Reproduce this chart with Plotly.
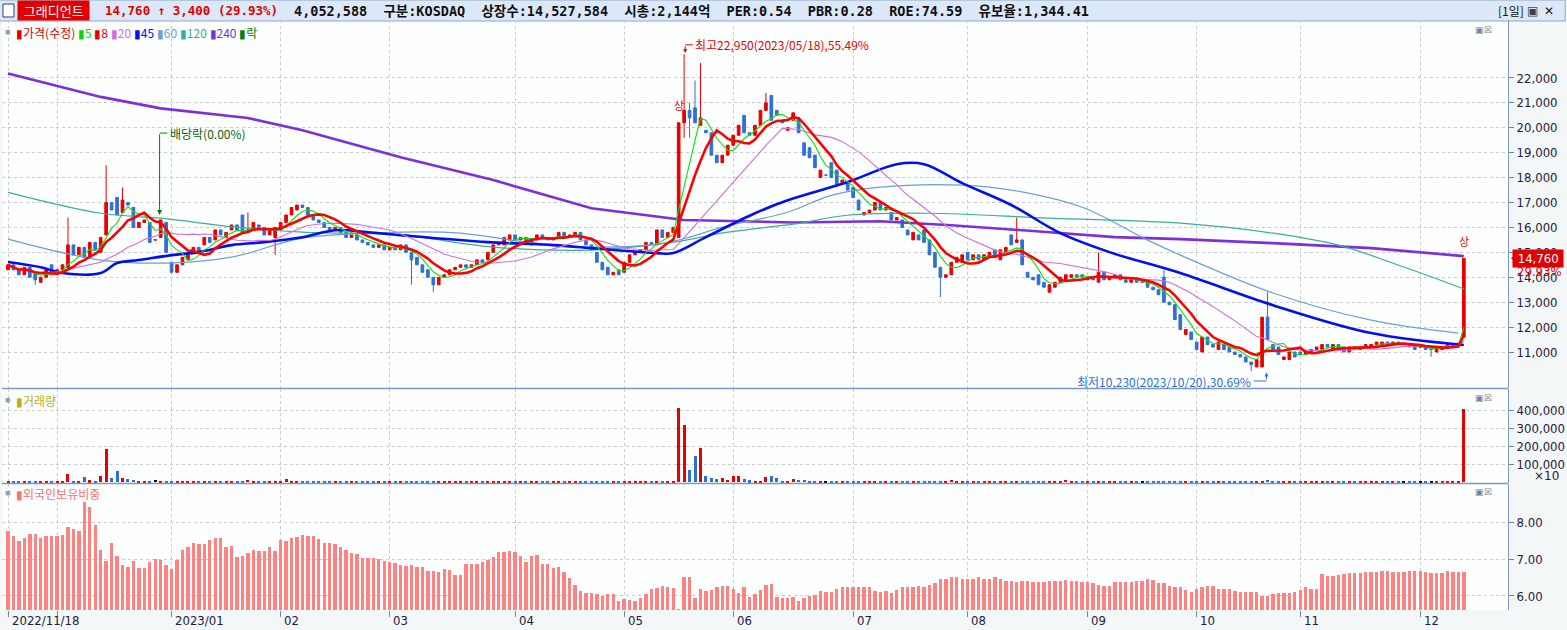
import plotly.graph_objects as go
import pandas as pd

# ---------------- data ----------------
month_labels = ["2022/11/18", "", "2023/01", "02", "03", "04", "05", "06", "07", "08", "09", "10", "11", "12"]

c_nov = [14500,14300,14100,14400,14000,13900,14000,14300,14200]
o_nov = [14300,14500,14300,14100,14400,14200,13800,14000,14500]
c_dec = [14300,14500,15300,14900,15200,14800,15400,15100,15600,17000,16700,16500,17100,16900,16000,16200,16300,15400,15500,16300,15000]
o_dec = [14100,14300,14400,15300,14900,15200,14800,15400,15000,15700,17000,17200,16600,17000,16800,16000,16200,16200,15500,15600,16200]
c_jan = [14200,14500,14800,14900,15200,15000,15600,15400,15900,15700,15800,16100,15900,15800,15900,16200,16000,15700,15900,16000]
o_jan = [14600,14200,14500,14700,15000,15200,15300,15600,15500,15900,15600,15900,16100,16500,15800,15900,16100,16000,15700,15600]
c_feb = [16200,16500,16800,16900,16800,16500,16300,16200,16000,15900,16000,15800,15600,15700,15500,15400,15300,15200,15300,15100]
o_feb = [15900,16200,16500,16700,16900,16800,16500,16300,16200,16000,15900,16000,15800,15600,15700,15500,15400,15300,15200,15300]
c_mar = [15200,15100,15300,15000,14700,14500,14200,14000,13700,14000,14100,14300,14400,14500,14400,14500,14700,14600,15000,15300,15400,15600,15700]
o_mar = [15100,15200,15100,15300,15000,14800,14500,14300,14000,13700,14000,14100,14300,14400,14500,14400,14500,14700,14700,15000,15300,15300,15500]
c_apr = [15500,15600,15400,15500,15700,15600,15500,15600,15800,15600,15700,15800,15500,15300,15100,14600,14300,14100,14200,14100]
o_apr = [15700,15500,15600,15300,15500,15700,15600,15500,15600,15800,15600,15700,15800,15500,15300,15000,14600,14400,14100,14300]
c_may = [14600,14900,15000,15100,15400,15300,15900,15600,15800,16000,20200,20700,20400,20200,20400,19800,18900,18600,18900,19300]
o_may = [14200,14600,14900,15000,15100,15400,15300,15900,15600,15800,15600,20200,20700,20800,20100,19900,19800,18900,18600,18900]
c_jun = [19700,20100,19800,19700,20100,20700,21000,20300,20500,20200,20000,20600,19800,18900,18800,18400,18300,18100,18000,17700,17900,17500]
o_jun = [19300,19700,20500,19800,19700,20100,20700,21300,20700,20300,19900,20300,20400,19400,19200,18900,18000,18100,18600,18300,17800,17800]
c_jul = [17200,16700,16600,16700,17000,16700,16800,16300,16400,16000,15700,15800,15500,15400,14900,14400,14000,14100,14600,14800,14900]
o_jul = [17600,17100,16500,16600,16700,17000,16700,16600,16300,16300,15900,15500,15700,15900,15500,15000,14400,14000,14100,14600,14600]
c_aug = [14700,14900,14700,14900,15000,14800,15100,15200,15300,15500,14500,14000,13900,13700,13600,13700,13800,14000,14100,14100,14000,14000]
o_aug = [15000,14700,14900,14700,14800,15100,14700,15000,15700,15400,15500,14200,14000,14100,13800,13400,13600,13800,13900,14000,14100,14100]
c_sep = [14000,13900,14200,13900,14000,14100,13900,13800,13900,13800,13800,13600,13500,13300,13000,12900,12300,11900,11900,11500]
o_sep = [13900,14000,13800,14200,13900,14000,14100,13900,13800,13900,13800,13800,13600,13500,14000,13000,12900,12500,11700,11800]
c_oct = [11100,11600,11300,11200,11400,11100,11000,10900,10800,10600,10500,10700,12400,11500,11100,10900,10800,11000,10800]
o_oct = [11400,11000,11600,11300,11100,11300,11200,11000,10900,10800,10600,10400,10400,12400,11300,11200,10700,10700,11000]
c_nov2 = [10900,11000,11100,11200,11300,11200,11300,11100,11000,11200,11100,11200,11300,11300,11400,11400,11300,11400,11300,11300,11200,11100]
o_nov2 = [11000,10900,11000,11100,11100,11300,11100,11300,11200,11000,11200,11100,11200,11200,11300,11300,11400,11300,11400,11300,11300,11300]
c_dec2 = [11200,11100,11100,11200,11200,11300,11300,11360,14760]
o_dec2 = [11200,11200,11100,11000,11100,11200,11200,11300,11600]

# wick extremes (day index, value)
high_idx = [11, 18, 21, 44, 123, 124, 125, 126, 127, 139, 185, 200, 212, 231, 267]
high_val = [16400, 18500, 17600, 16600, 20200, 22950, 21000, 21900, 22600, 21400, 16400, 15000, 14300, 13400, 14760]
low_idx = [5, 49, 74, 78, 124, 125, 171, 228, 261]
low_val = [13700, 14900, 13700, 13400, 19600, 19600, 13200, 10230, 10800]

vol_nov = [6000,3000,3000,4000,3000,4000,3000,3000,4000]
vol_dec = [4000,4000,44000,8000,8000,28000,10000,4000,33000,183000,22000,61000,22000,17000,13000,8000,8000,8000,13000,5000,8000]
vol_jan = [8000,8000,5000,4000,4000,4000,8000,4000,4000,5000,4000,8000,4000,4000,13000,4000,4000,4000,4000,4000]
vol_feb = [4000,17000,4000,3000,4000,3000,4000,3000,3000,4000,3000,4000,3000,3000,4000,3000,3000,4000,3000,3000]
vol_mar = [3000,4000,3000,3000,4000,3000,3000,4000,3000,3000,3000,4000,3000,3000,3000,4000,3000,3000,4000,3000,3000,3000,4000]
vol_apr = [3000,3000,4000,3000,3000,3000,4000,3000,3000,3000,4000,3000,8000,3000,3000,4000,3000,3000,3000,4000]
vol_may = [3000,4000,3000,3000,4000,3000,8000,4000,4000,5000,411000,317000,67000,144000,189000,33000,22000,17000,22000,13000]
vol_jun = [33000,33000,17000,11000,8000,8000,28000,33000,22000,8000,8000,17000,13000,13000,5000,4000,4000,3000,3000,4000,3000,3000]
vol_jul = [3000,4000,3000,3000,8000,3000,4000,8000,3000,3000,4000,3000,3000,3000,4000,3000,3000,4000,13000,3000,3000]
vol_aug = [3000,3000,4000,3000,3000,3000,4000,3000,3000,3000,4000,3000,3000,3000,4000,3000,3000,8000,13000,3000,3000,4000]
vol_sep = [3000,3000,4000,3000,3000,3000,8000,3000,3000,3000,4000,3000,3000,3000,3000,4000,3000,3000,8000,3000]
vol_oct = [3000,3000,4000,3000,3000,3000,4000,3000,3000,3000,4000,3000,3000,13000,3000,3000,4000,3000,3000]
vol_nov2 = [3000,3000,4000,3000,3000,3000,4000,3000,3000,3000,4000,3000,3000,3000,4000,3000,3000,3000,4000,3000,3000,3000]
vol_dec2 = [3000,4000,3000,3000,3000,4000,3000,3000,405259]

fr_nov = [7.77,7.63,7.50,7.58,7.68,7.68,7.58,7.61,7.63]
fr_dec = [7.63,7.65,7.86,7.81,7.77,8.53,8.40,7.91,7.24,6.95,7.43,7.07,6.83,6.79,6.95,6.76,6.76,6.91,6.99,6.97,6.83]
fr_jan = [6.74,6.97,7.25,7.32,7.44,7.41,7.40,7.51,7.58,7.57,7.33,7.35,7.05,7.08,7.17,7.24,7.23,7.23,7.32,7.23]
fr_feb = [7.52,7.50,7.58,7.60,7.65,7.63,7.63,7.54,7.44,7.44,7.40,7.32,7.25,7.15,7.13,7.04,7.04,7.02,7.00,6.95]
fr_mar = [6.93,6.88,6.84,6.82,6.84,6.78,6.78,6.68,6.68,6.65,6.73,6.70,6.57,6.57,6.86,6.87,6.86,6.93,6.98,7.05,7.19,7.19,7.23]
fr_apr = [7.19,7.08,6.93,7.08,7.12,6.86,6.86,6.77,6.78,6.64,6.49,6.30,6.13,6.09,6.09,6.05,5.99,6.05,6.05,5.86]
fr_may = [5.92,5.89,5.86,5.95,6.06,6.20,6.22,6.26,6.24,6.22,5.66,6.52,6.52,5.95,6.19,6.14,6.17,6.23,6.27,6.27]
fr_jun = [6.19,6.08,6.25,5.98,6.05,6.17,6.30,6.32,5.97,5.95,5.95,5.98,5.86,5.95,6.00,6.03,6.14,6.11,6.11,6.19,6.23,6.23]
fr_jul = [6.25,6.23,6.23,6.23,6.14,6.11,6.14,6.08,6.17,6.23,6.23,6.23,6.27,6.23,6.30,6.35,6.47,6.47,6.50,6.50,6.47]
fr_aug = [6.47,6.47,6.50,6.47,6.47,6.50,6.47,6.41,6.41,6.39,6.41,6.41,6.39,6.39,6.39,6.41,6.41,6.41,6.44,6.41,6.41,6.39]
fr_sep = [6.39,6.35,6.30,6.27,6.27,6.39,6.39,6.39,6.39,6.41,6.41,6.46,6.44,6.35,6.35,6.27,6.24,6.24,6.17,6.12]
fr_oct = [6.19,6.25,6.27,6.26,6.19,6.19,6.19,6.14,6.12,6.12,6.12,6.12,6.01,6.01,6.06,6.07,6.07,6.07,6.12]
fr_nov2 = [6.16,6.23,6.20,6.20,6.59,6.53,6.53,6.56,6.60,6.63,6.63,6.61,6.66,6.64,6.66,6.68,6.68,6.66,6.66,6.64,6.67,6.67]
fr_dec2 = [6.67,6.65,6.62,6.62,6.62,6.67,6.65,6.65,6.65]

# long moving averages (day index, value)
ma45_idx = [0, 6, 10, 17, 20, 24, 30, 35, 41, 47, 54, 60, 66, 72, 88, 100, 107, 119, 122, 128, 137, 143, 154, 163, 168, 175, 184, 193, 202, 215, 232, 250, 267]
ma45_val = [14610, 14400, 14170, 14170, 14570, 14690, 14890, 15010, 15290, 15410, 15610, 15890, 15810, 15690, 15410, 15290, 15170, 14970, 14970, 15610, 16570, 17090, 17820, 18540, 18540, 17780, 16900, 15770, 15010, 14170, 12880, 11760, 11280]
ma60_idx = [0, 17, 29, 41, 54, 72, 83, 95, 107, 119, 125, 131, 143, 151, 160, 175, 184, 197, 209, 215, 232, 250, 266]
ma60_val = [15530, 14690, 14570, 14810, 15570, 15810, 15770, 15410, 15210, 15330, 15610, 16010, 16610, 17290, 17620, 17700, 17500, 16810, 15490, 14890, 13370, 12280, 11760]
ma120_idx = [0, 17, 28, 42, 54, 72, 89, 107, 122, 132, 144, 154, 169, 191, 215, 232, 244, 256, 267]
ma120_val = [17410, 16570, 16370, 16010, 15810, 15690, 15210, 15090, 15410, 15810, 16130, 16490, 16570, 16370, 16170, 15770, 15290, 14410, 13530]
ma240_idx = [0, 10, 17, 28, 44, 54, 72, 89, 107, 124, 144, 160, 173, 191, 203, 215, 232, 250, 267]
ma240_val = [22180, 21620, 21240, 20780, 20390, 19900, 18820, 17900, 16770, 16300, 16200, 16250, 16090, 15810, 15610, 15530, 15370, 15170, 14850]

# ---------------- assemble ----------------
C = c_nov + c_dec + c_jan + c_feb + c_mar + c_apr + c_may + c_jun + c_jul + c_aug + c_sep + c_oct + c_nov2 + c_dec2
O = o_nov + o_dec + o_jan + o_feb + o_mar + o_apr + o_may + o_jun + o_jul + o_aug + o_sep + o_oct + o_nov2 + o_dec2
V = vol_nov + vol_dec + vol_jan + vol_feb + vol_mar + vol_apr + vol_may + vol_jun + vol_jul + vol_aug + vol_sep + vol_oct + vol_nov2 + vol_dec2
FR = fr_nov + fr_dec + fr_jan + fr_feb + fr_mar + fr_apr + fr_may + fr_jun + fr_jul + fr_aug + fr_sep + fr_oct + fr_nov2 + fr_dec2
months = [c_nov, c_dec, c_jan, c_feb, c_mar, c_apr, c_may, c_jun, c_jul, c_aug, c_sep, c_oct, c_nov2, c_dec2]
n = len(C)
assert len(O) == n and len(V) == n and len(FR) == n, (len(C), len(O), len(V), len(FR))

H = [max(o, c) for o, c in zip(O, C)]
L = [min(o, c) for o, c in zip(O, C)]
for i, v in zip(high_idx, high_val):
    H[i] = max(H[i], v)
for i, v in zip(low_idx, low_val):
    L[i] = min(L[i], v)

X = list(range(n))
tickvals = []
pos = 0
for m in months:
    tickvals.append(pos)
    pos += len(m)

s = pd.Series(C, dtype=float)
ma5 = s.rolling(5, min_periods=1).mean()
ma8 = s.rolling(8, min_periods=1).mean()
ma20 = s.rolling(20, min_periods=1).mean()

RED = "#e80000"
BLUE = "#2f6fd6"
vcol = [RED if c > o else (BLUE if c < o else "#000000") for o, c in zip(O, C)]

fig = go.Figure()
fig.add_trace(go.Scatter(x=ma240_idx, y=ma240_val, mode="lines", line=dict(color="#7b2fe0", width=2.6), yaxis="y", xaxis="x"))
fig.add_trace(go.Scatter(x=ma120_idx, y=ma120_val, mode="lines", line=dict(color="#3aae96", width=1.2, shape="spline"), yaxis="y"))
fig.add_trace(go.Scatter(x=ma60_idx, y=ma60_val, mode="lines", line=dict(color="#6c9fd2", width=1.2, shape="spline"), yaxis="y"))
fig.add_trace(go.Scatter(x=ma45_idx, y=ma45_val, mode="lines", line=dict(color="#0010f0", width=2.6, shape="spline"), yaxis="y"))
fig.add_trace(go.Scatter(x=X, y=ma20, mode="lines", line=dict(color="#d070d8", width=1.1), yaxis="y"))
fig.add_trace(go.Candlestick(x=X, open=O, high=H, low=L, close=C, whiskerwidth=0,
                             increasing=dict(line=dict(color=RED, width=1), fillcolor=RED),
                             decreasing=dict(line=dict(color=BLUE, width=1), fillcolor=BLUE),
                             yaxis="y"))
fig.add_trace(go.Scatter(x=X, y=ma5, mode="lines", line=dict(color="#10e010", width=1.1), yaxis="y"))
fig.add_trace(go.Scatter(x=X, y=ma8, mode="lines", line=dict(color="#ff0000", width=2.6), yaxis="y"))

fig.add_trace(go.Bar(x=X, y=V, marker=dict(color=vcol, line=dict(width=0)), width=0.55, xaxis="x2", yaxis="y2"))
fig.add_trace(go.Bar(x=X, y=FR, marker=dict(color="#ff8282", line=dict(width=0)), width=0.62, xaxis="x3", yaxis="y3"))

def py(pix):
    return (610 - pix) / 590.0

def px(p):
    return (p - 2) / 1508.0

xr = [-1.1, 275.1]
grid = dict(showgrid=True, gridcolor="#c8cccc", griddash="dot", gridwidth=1)
axfont = dict(family="DejaVu Sans Condensed, DejaVu Sans", size=13, color="#1c2040")
common_x = dict(range=xr, tickvals=tickvals, showline=False, zeroline=False, **grid)
fig.update_layout(
    width=1567, height=630,
    margin=dict(l=2, r=57, t=20, b=20),
    paper_bgcolor="#f3f7f7", plot_bgcolor="#fdfefe",
    showlegend=False, bargap=0,
    xaxis=dict(domain=[0, 1], anchor="y", showticklabels=False, rangeslider=dict(visible=False), **common_x),
    xaxis2=dict(domain=[0, 1], anchor="y2", showticklabels=False, matches="x", **common_x),
    xaxis3=dict(domain=[0, 1], anchor="y3", showticklabels=False, ticks="outside", ticklen=6,
                tickcolor="#7088b0", matches="x", **common_x),
    yaxis=dict(domain=[py(388), py(20)], side="right", range=[9555, 24327],
               tickvals=list(range(11000, 23000, 1000)), tickformat=",", ticks="outside", ticklen=5,
               tickcolor="#7088b0", tickfont=axfont, zeroline=False, showline=True, linecolor="#7c98c0", **grid),
    yaxis2=dict(domain=[py(483), py(389)], side="right", range=[-5500, 517000],
                tickvals=[100000, 200000, 300000, 400000], tickformat=",", ticks="outside", ticklen=5,
                tickcolor="#7088b0", tickfont=axfont, zeroline=False, showline=True, linecolor="#7c98c0", **grid),
    yaxis3=dict(domain=[0, py(484)], side="right", range=[5.62, 9.03],
                tickvals=[6, 7, 8], tickformat=".2f", ticks="outside", ticklen=5,
                tickcolor="#7088b0", tickfont=axfont, zeroline=False, showline=True, linecolor="#7c98c0", **grid),
)

shapes = []
for yp in [388.5, 483.5]:
    shapes.append(dict(type="line", xref="paper", yref="paper", x0=0, x1=1, y0=py(yp), y1=py(yp), line=dict(color="#7c98c0", width=1.5)))
shapes.append(dict(type="rect", xref="paper", yref="paper", x0=-0.002, x1=1.038, y0=py(21), y1=py(0), fillcolor="#dce8f8", line=dict(color="#8ea8c8", width=1), layer="below"))
shapes.append(dict(type="rect", xref="paper", yref="paper", x0=px(3), x1=px(14), y0=py(17), y1=py(4), fillcolor="#ffffff", line=dict(color="#304060", width=1), layer="below"))
shapes.append(dict(type="line", xref="x", yref="y", x0=27.8, x1=29.2, y0=19790, y1=19790, line=dict(color="#008000", width=1)))
shapes.append(dict(type="line", xref="x", yref="y", x0=124.2, x1=125.6, y0=23330, y1=23330, line=dict(color=RED, width=1)))
shapes.append(dict(type="line", xref="x", yref="y", x0=228.5, x1=230.8, y0=9836, y1=9836, line=dict(color=BLUE, width=1)))
shapes.append(dict(type="path", xref="paper", yref="y",
                   path="M %f,14760 L %f,15050 L %f,14470 Z" % (px(1513), px(1522), px(1522)),
                   fillcolor=RED, line=dict(width=0)))
fig.update_layout(shapes=shapes)

cjk = "Noto Sans CJK KR"
mono = "DejaVu Sans Mono, Noto Sans CJK KR"
ann = []
ann.append(dict(xref="paper", yref="paper", x=px(17), y=py(10.5), xanchor="left", yanchor="middle",
                text="  그래디언트  ", showarrow=False, bgcolor="#e00000", borderpad=0,
                font=dict(family=cjk, size=13, color="#ffffff")))
ann.append(dict(xref="paper", yref="paper", x=px(103), y=py(10.5), xanchor="left", yanchor="middle",
                text="<b>14,760 ↑ 3,400 (29.93%)</b>", showarrow=False, font=dict(family=mono, size=12.5, color="#e00000")))
ann.append(dict(xref="paper", yref="paper", x=px(292), y=py(10.5), xanchor="left", yanchor="middle",
                text="<b>4,052,588  구분:KOSDAQ  상장수:14,527,584  시총:2,144억  PER:0.54  PBR:0.28  ROE:74.59  유보율:1,344.41</b>",
                showarrow=False, font=dict(family=mono, size=13.5, color="#101010")))
ann.append(dict(xref="paper", yref="paper", x=px(1528), y=py(10.5), xanchor="right", yanchor="middle", text="[1일]", showarrow=False,
                font=dict(family=cjk, size=12, color="#101010")))
ann.append(dict(xref="paper", yref="paper", x=px(1542), y=py(10.5), yanchor="middle", text="▣", showarrow=False, font=dict(size=12, color="#404040")))
ann.append(dict(xref="paper", yref="paper", x=px(1558), y=py(10.5), yanchor="middle", text="✕", showarrow=False, font=dict(size=12, color="#202020")))
legend = ('<span style="color:#e00000">▮가격(수정)</span> <span style="color:#10d010">▮5</span> '
          '<span style="color:#e00000">▮8</span> <span style="color:#d070d8">▮20</span> '
          '<span style="color:#0010f0">▮45</span> <span style="color:#6c9fd2">▮60</span> '
          '<span style="color:#3aae96">▮120</span> <span style="color:#7b2fe0">▮240</span> '
          '<span style="color:#008000">▮락</span>')
ann.append(dict(xref="paper", yref="paper", x=px(14), y=py(32), xanchor="left", yanchor="middle", text=legend, showarrow=False,
                font=dict(family=cjk, size=12)))
for yy in [31, 399, 492]:
    ann.append(dict(xref="paper", yref="paper", x=px(3), y=py(yy), xanchor="left", yanchor="middle", text="■", showarrow=False, font=dict(size=9, color="#8ea0c0")))
ann.append(dict(xref="paper", yref="paper", x=px(14), y=py(400), xanchor="left", yanchor="middle", text="▮거래량", showarrow=False,
                font=dict(family=cjk, size=12, color="#b8b020")))
ann.append(dict(xref="paper", yref="paper", x=px(14), y=py(493), xanchor="left", yanchor="middle", text="▮외국인보유비중", showarrow=False,
                font=dict(family=cjk, size=12, color="#ff7070")))
for yy in [30, 397, 491]:
    ann.append(dict(xref="paper", yref="paper", x=px(1496), y=py(yy), yanchor="middle", text="▣☒", showarrow=False, font=dict(size=9, color="#7080a0")))
ann.append(dict(xref="paper", yref="paper", x=px(1563), y=py(476), xanchor="right", yanchor="middle", text="×10", showarrow=False,
                font=dict(family="DejaVu Sans", size=12, color="#1c2040")))
for tv, lab in zip(tickvals, month_labels):
    if lab:
        ann.append(dict(xref="x3", yref="paper", x=tv + 0.3, y=py(620), xanchor="left", yanchor="middle", text=lab, showarrow=False,
                        font=dict(family="DejaVu Sans Condensed, DejaVu Sans", size=13, color="#1c2040")))
ann.append(dict(x=27.8, y=16500, ax=27.8, ay=19790, xref="x", yref="y", axref="x", ayref="y", text="", showarrow=True,
                arrowhead=2, arrowsize=1, arrowwidth=1, arrowcolor="#008000"))
ann.append(dict(x=29.3, y=19790, xref="x", yref="y", xanchor="left", text="배당락(0.00%)", showarrow=False,
                font=dict(family=cjk, size=12, color="#106010")))
ann.append(dict(x=124.2, y=23000, ax=124.2, ay=23330, xref="x", yref="y", axref="x", ayref="y", text="", showarrow=True,
                arrowhead=2, arrowsize=0.8, arrowwidth=1, arrowcolor=RED))
ann.append(dict(x=125.7, y=23330, xref="x", yref="y", xanchor="left", text="최고22,950(2023/05/18),55.49%", showarrow=False,
                font=dict(family=cjk, size=12, color=RED)))
ann.append(dict(x=230.8, y=10180, ax=230.8, ay=9836, xref="x", yref="y", axref="x", ayref="y", text="", showarrow=True,
                arrowhead=2, arrowsize=0.8, arrowwidth=1, arrowcolor=BLUE))
ann.append(dict(x=228.4, y=9836, xref="x", yref="y", xanchor="right", text="최저10,230(2023/10/20),30.69%", showarrow=False,
                font=dict(family=cjk, size=12, color=BLUE)))
ann.append(dict(x=123, y=20900, xref="x", yref="y", text="상", showarrow=False, font=dict(family=cjk, size=11, color=RED)))
ann.append(dict(x=267, y=15450, xref="x", yref="y", text="상", showarrow=False, font=dict(family=cjk, size=11, color=RED)))
ann.append(dict(xref="paper", yref="y", x=px(1566), y=14760, xanchor="right", text=" 14,760 ", showarrow=False, bgcolor="#e00000",
                font=dict(family="DejaVu Sans Condensed, DejaVu Sans", size=13, color="white")))
ann.append(dict(xref="paper", yref="y", x=px(1566), y=14220, xanchor="right", text="29.93%", showarrow=False,
                font=dict(family="DejaVu Sans Condensed, DejaVu Sans", size=13, color="#e00000")))
fig.update_layout(annotations=ann)

fig.write_html("out.html", config={"displayModeBar": False},
               post_script="document.body.style.margin='0';document.body.style.overflow='hidden';")
